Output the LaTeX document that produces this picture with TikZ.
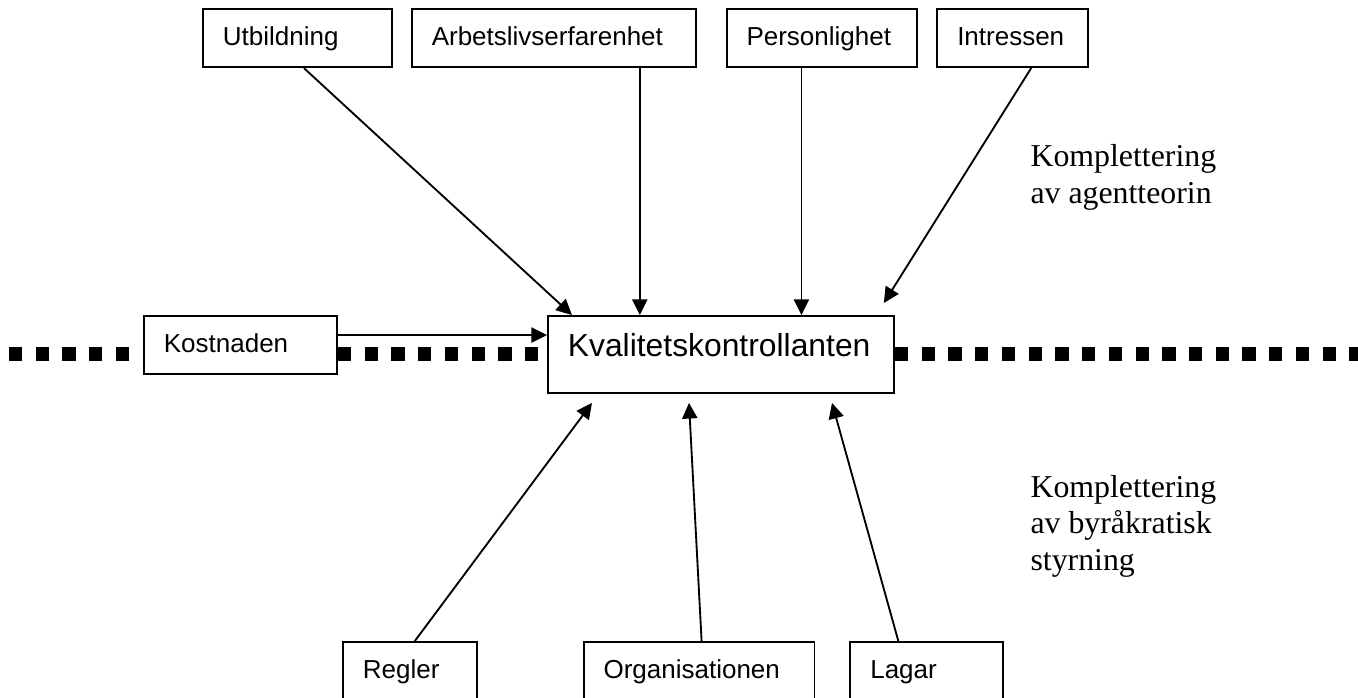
\documentclass[tikz,border=0pt]{standalone}
\usepackage{fontspec}
\setmainfont{Liberation Serif}
\setsansfont{Liberation Sans}
\usetikzlibrary{positioning, calc, arrows.meta}

\begin{document}
\begin{tikzpicture}[x=0.377pt, y=-0.377pt]
		% 样式
		\tikzstyle{box} = [draw, line width=0.75pt, anchor=north west, inner xsep=7.5pt, inner ysep=0pt, text height=13.6pt, text depth=8.3pt, align=left, font=\sffamily\fontsize{9.8}{12}\selectfont]
		\tikzstyle{arrow} = [line width=0.7pt, ->, >={Triangle[length=5.9pt, width=5.7pt]}]
		\tikzstyle{dots} = [line width=5.3pt, dash pattern=on 5pt off 5.08pt]
		\tikzstyle{note} = [anchor=base west, align=left, inner sep=0pt, font=\fontsize{12}{13.6}\selectfont]
		
		\useasboundingbox (0,0) rectangle (1358,697);
		
		% 上方的因素
		\node [box, text width=56.2pt] (utb) at (202,8) {Utbildning};
		\node [box, text width=92pt, right=6.8pt of utb] (arb) {Arbetslivserfarenhet};
		\node [box, text width=56.9pt, right=10.9pt of arb] (pers) {Personlighet};
		\node [box, text width=41.8pt, right=6.8pt of pers] (intr) {Intressen};
		
		% 中间
		\node [box, text width=57.7pt] (kost) at (143,315) {Kostnaden};
		\node [box, text width=115.4pt, text height=15.1pt, text depth=13.9pt, font=\sffamily\fontsize{12}{14}\selectfont] (kv) at (547,315) {Kvalitetskontrollanten};
		
		% 下方的因素
		\node [box, text width=35.4pt] (regl) at (342,641) {Regler};
		\node [box, text width=72pt, right=39.6pt of regl] (org) {Organisationen};
		\node [box, text width=42.6pt, right=12.8pt of org] (lag) {Lagar};
		
		% 右边的说明 (base = 最后一行)
		\node [note] (agent) at (1030,203) {Komplettering\\av agentteorin};
		\node [note] (byra) at (1030,570) {Komplettering\\av byråkratisk\\styrning};
		
		% 虚线
		\coordinate (dotL) at (9,354);
		\coordinate (dotR) at (1358,354);
		\draw [dots] (dotL) -- (dotL -| kost.west);
		\draw [dots] (kost.east |- dotL) -- (kv.west |- dotL);
		\draw [dots] (kv.east |- dotL) -- (dotR);
		
		% 箭头
		\coordinate (astart) at ($(arb.south)+(86,0)$);
		\coordinate (pstart) at ($(pers.south)+(-20.5,0)$);
		\coordinate (kstart) at ($(kost.east)+(0,-10)$);
		\draw [arrow] ($(utb.south)+(6.5,0)$) -- ($(kv.north west)+(25,0)$);
		\draw [arrow] (astart) -- (astart |- kv.north);
		\draw [arrow] (pstart) -- (pstart |- kv.north);
		\draw [arrow] ($(intr.south)+(18.5,0)$) -- ($(kv.north east)+(-11,-12)$);
		\draw [arrow] (kstart) -- (kstart -| kv.west);
		\draw [arrow] ($(regl.north)+(5,0)$) -- ($(kv.south west)+(45,9)$);
		\draw [arrow] ($(org.north)+(2.5,0)$) -- ($(kv.south west)+(142,9)$);
		\draw [arrow] ($(lag.north)+(-28.5,0)$) -- ($(kv.south west)+(285,9)$);
\end{tikzpicture}
\end{document}
